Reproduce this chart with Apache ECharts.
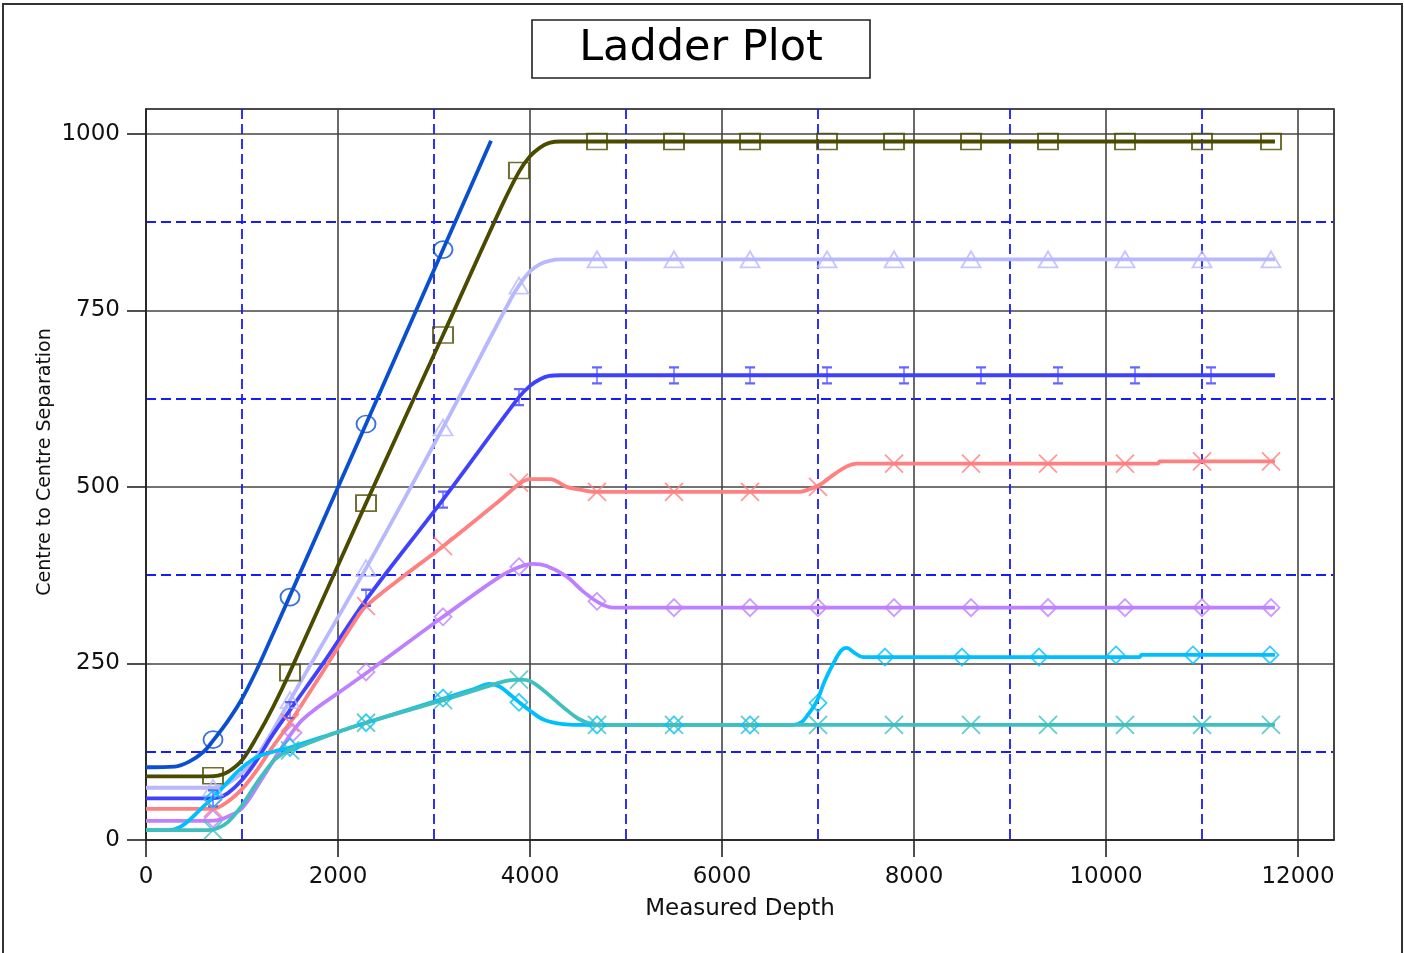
<!DOCTYPE html>
<html>
<head>
<meta charset="utf-8">
<title>Ladder Plot</title>
<script src="https://cdn.jsdelivr.net/npm/echarts@6/dist/echarts.min.js"></script>
<style>
  html, body { margin: 0; padding: 0; background: #fff; }
  #chart { width: 1404px; height: 953px; }
</style>
</head>
<body>
<div id="chart"></div>
<script>
// axis ranges
const xMin = 0, xMax = 12375, xStep = 2000
const yMin = 0, yMax = 1035, yStep = 250

// each well: the separation curve and the marker points
const circleLine = [[0,103],[300,104],[450,111],[600,125],[700,141],[850,168],[1000,200],[1150,240],[1300,285],[1500,346],[2292,589],[3094,836],[3594,990]]
const circleMarks = [[698,142],[1500,344],[2292,589],[3094,836]]

const squareLine = [[0,90],[650,90],[750,91],[850,96],[1000,113],[1150,145],[1326,189],[1500,238],[2292,477],[3094,715],[3700,896],[3885,946],[4000,968],[4100,980],[4200,987],[4320,989],[11760,989]]
const squareMarks = [[698,91],[1500,237],[2292,477],[3094,715],[3885,948],[4698,989],[5500,989],[6292,989],[7094,989],[7792,989],[8594,989],[9396,989],[10198,989],[11000,989],[11719,989]]

const triangleLine = [[0,74],[650,74],[750,75],[850,80],[1000,95],[1150,118],[1300,150],[1500,198],[2292,385],[3094,584],[3800,766],[3900,788],[4000,805],[4100,815],[4200,820],[4320,822],[11760,822]]
const triangleMarks = [[698,74],[1500,198],[2292,385],[3094,584],[3885,785],[4698,822],[5500,822],[6292,822],[7094,822],[7792,822],[8594,822],[9396,822],[10198,822],[11000,822],[11719,822]]

const beamLine = [[0,59],[650,59],[750,60],[850,66],[1000,85],[1150,112],[1300,145],[1500,184],[1845,250],[2292,340],[3094,482],[3885,627],[4000,643],[4100,652],[4200,657],[4320,658],[11760,658]]
const beamMarks = [[698,59],[1500,184],[2292,343],[3094,482],[3885,627],[4698,658],[5500,658],[6292,658],[7094,658],[7896,658],[8698,658],[9500,658],[10302,658],[11094,658]]

const redLine = [[0,44],[650,44],[750,46],[850,54],[1000,72],[1150,98],[1300,128],[1500,166],[1896,250],[2200,315],[2292,331],[2600,365],[3094,416],[3687,481],[3896,505],[4000,511],[4208,511],[4382,500],[4521,496],[4660,493],[6813,493],[6917,497],[7021,503],[7160,517],[7300,529],[7403,533],[10540,533],[10560,536],[11760,536]]
const redMarks = [[698,45],[1500,166],[2292,331],[3094,416],[3885,506],[4698,493],[5500,493],[6292,493],[7000,500],[7792,533],[8594,533],[9396,533],[10198,533],[11000,536],[11719,536]]

const purpleLine = [[0,27],[650,27],[750,28],[850,33],[1000,45],[1200,85],[1400,128],[1600,166],[1800,189],[2000,208],[2292,236],[3094,316],[3687,373],[3896,387],[4031,391],[4174,388],[4382,373],[4552,352],[4729,335],[4868,329],[11760,329]]
const purpleMarks = [[698,30],[1531,152],[2292,238],[3094,316],[3885,387],[4698,338],[5500,329],[6292,329],[7000,329],[7792,329],[8594,329],[9396,329],[10198,329],[11000,329],[11719,329]]

const cyanLine = [[0,14],[250,14],[350,18],[450,28],[594,47],[700,60],[850,82],[979,100],[1150,117],[1326,125],[1500,131],[2000,153],[2292,166],[3094,200],[3400,213],[3583,221],[3687,217],[3800,205],[3896,194],[4031,180],[4150,170],[4344,164],[4500,163],[6740,163],[6830,167],[6882,175],[6986,196],[7070,225],[7160,250],[7240,268],[7299,272],[7380,265],[7469,259],[10350,259],[10370,262],[11760,262]]
const cyanMarks = [[698,58],[1500,131],[2292,166],[3094,201],[3885,195],[4698,163],[5500,163],[6292,163],[7000,194],[7698,259],[8500,259],[9302,259],[10104,262],[10906,262],[11708,262]]

const tealLine = [[0,14],[650,14],[750,17],[850,25],[979,45],[1150,80],[1326,112],[1420,122],[1500,127],[2000,153],[2292,166],[3094,198],[3615,220],[3780,226],[3896,227],[4000,225],[4139,212],[4260,198],[4382,184],[4500,172],[4625,165],[4750,163],[11760,163]]
const tealMarks = [[698,14],[1500,127],[2292,166],[3094,198],[3885,227],[4698,163],[5500,163],[6292,163],[7000,163],[7792,163],[8594,163],[9396,163],[10198,163],[11000,163],[11719,163]]

const FONT = '"DejaVu Sans", Verdana, sans-serif'
const X_PATH = 'path://M0 0L10 10M10 0L0 10'
const BEAM_PATH = 'path://M0 0H6M3 0V16M0 16H6'

const wells = [
  { line: circleLine, marks: circleMarks, color: '#0a4fcf', symbol: 'circle', size: [19, 17] },
  { line: squareLine, marks: squareMarks, color: '#4b4b00', symbol: 'rect', size: [20, 16] },
  { line: triangleLine, marks: triangleMarks, color: '#b8b8ff', symbol: 'triangle', size: [19, 16] },
  { line: beamLine, marks: beamMarks, color: '#4040ff', symbol: BEAM_PATH, size: [10, 16] },
  { line: redLine, marks: redMarks, color: '#ff8080', symbol: X_PATH, size: [18, 18] },
  { line: purpleLine, marks: purpleMarks, color: '#bf80ff', symbol: 'diamond', size: [17, 17] },
  { line: cyanLine, marks: cyanMarks, color: '#00bfff', symbol: 'diamond', size: [17, 17] },
  { line: tealLine, marks: tealMarks, color: '#40bfbf', symbol: X_PATH, size: [18, 18] }
]

const series = []
wells.forEach((w, i) => {
  series.push({
    type: 'line',
    data: w.line,
    smooth: 0.35,
    showSymbol: false,
    z: 2 + i,
    lineStyle: { color: w.color, width: 3.8 }
  })
  series.push({
    type: 'scatter',
    data: w.marks,
    symbol: w.symbol,
    symbolSize: w.size,
    z: 20 + i,
    itemStyle: { color: 'rgba(0,0,0,0)', borderColor: w.color, borderWidth: 1.8 }
  })
})

// plain numbers, no thousands separator
const axisText = { color: '#111', fontSize: 23, fontFamily: FONT, formatter: v => String(v) }
const majorGrid = { show: true, lineStyle: { color: '#444', width: 1.6 } }
const minorGrid = { show: true, lineStyle: { color: '#1a1aff', width: 1.8, type: [10, 5] } }

const chart = echarts.init(document.getElementById('chart'))
chart.setOption({
  animation: false,
  backgroundColor: '#fff',
  grid: {
    left: 146, top: 109, right: 70, bottom: 113,
    show: true, borderColor: '#222', borderWidth: 1.6
  },
  graphic: [
    {
      type: 'rect',
      shape: { x: 3, y: 4, width: 1399, height: 980 },
      style: { fill: 'none', stroke: '#333', lineWidth: 2 }
    },
    {
      type: 'rect',
      shape: { x: 532, y: 20, width: 338, height: 58 },
      style: { fill: '#fff', stroke: '#222', lineWidth: 1.6 }
    },
    {
      type: 'text',
      x: 701, y: 49,
      style: { text: 'Ladder Plot', fill: '#000', fontSize: 43, fontFamily: FONT, align: 'center', verticalAlign: 'middle' }
    },
    {
      type: 'text',
      x: 45, y: 462,
      rotation: Math.PI / 2,
      style: { text: 'Centre to Centre Separation', fill: '#111', fontSize: 19, fontFamily: FONT, align: 'center', verticalAlign: 'middle' }
    }
  ],
  xAxis: {
    type: 'value',
    min: xMin, max: xMax, interval: xStep,
    name: 'Measured Depth',
    nameLocation: 'middle',
    nameGap: 58,
    nameTextStyle: { color: '#111', fontSize: 23, fontFamily: FONT },
    axisLine: { show: true, lineStyle: { color: '#222', width: 1.6 } },
    axisTick: { show: true, length: 17, lineStyle: { color: '#222', width: 1.6 } },
    axisLabel: Object.assign({ margin: 26, showMaxLabel: false }, axisText),
    splitLine: majorGrid,
    minorTick: { show: false, splitNumber: 2 },
    minorSplitLine: minorGrid
  },
  yAxis: {
    type: 'value',
    min: yMin, max: yMax, interval: yStep,
    axisLine: { show: true, lineStyle: { color: '#222', width: 1.6 } },
    axisTick: { show: true, length: 19, lineStyle: { color: '#222', width: 1.6 } },
    axisLabel: Object.assign({ margin: 26, showMaxLabel: false }, axisText),
    splitLine: majorGrid,
    minorTick: { show: false, splitNumber: 2 },
    minorSplitLine: minorGrid
  },
  series: series
})
</script>
</body>
</html>
